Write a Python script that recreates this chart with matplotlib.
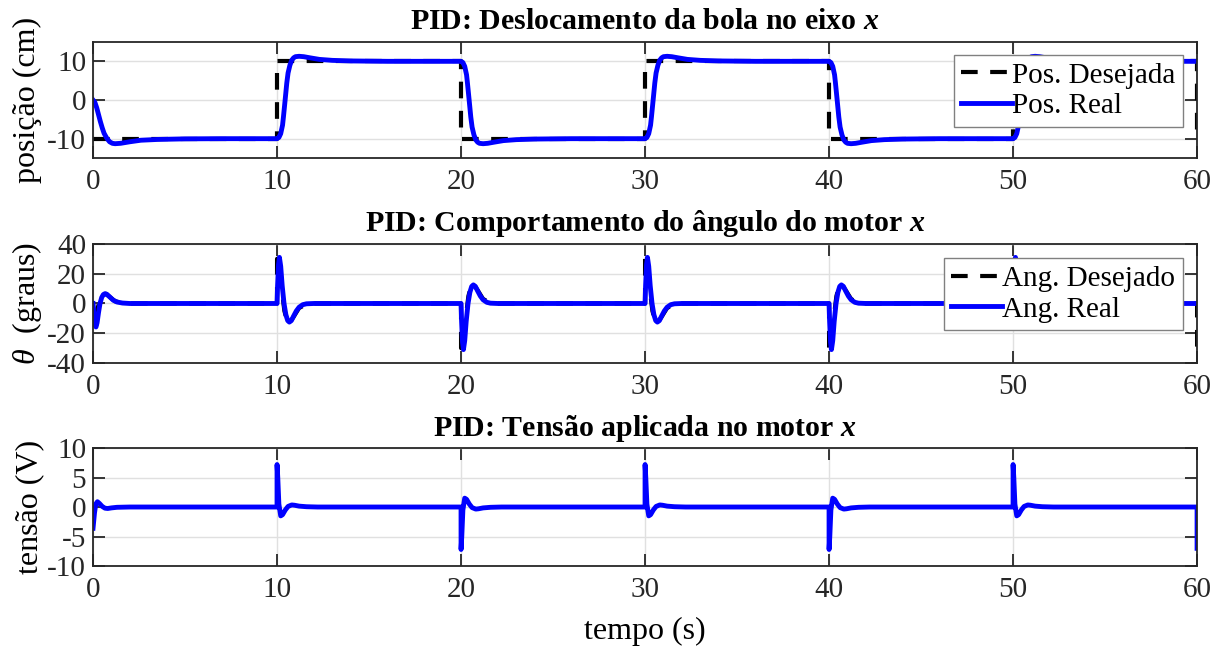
import numpy as np
import matplotlib
matplotlib.use("Agg")
import matplotlib.pyplot as plt

# ---------------- data ----------------
step_times = [0, 10, 20, 30, 40, 50]          # start of each reference segment
step_dirs = ["first", "up", "down", "up", "down", "up"]
t_end = 60

# desired position levels (cm) per segment, last value = level reached at t=60
pos_ref_times = [0, 10, 20, 30, 40, 50, 60]
pos_ref_levels = [-10, 10, -10, 10, -10, 10, -10]

# real position responses (offset s, value cm)
pos_first_off = [0, 0.1, 0.2, 0.3, 0.4, 0.5, 0.6, 0.75, 0.9, 1.05, 1.2, 1.5, 2.0, 2.6, 3.5, 5.0, 7.0, 10.0]
pos_first_val = [0, -0.6, -2.0, -3.8, -5.6, -7.2, -8.6, -9.9, -10.8, -11.2, -11.3, -11.2, -10.8, -10.4, -10.2, -10.05, -10.0, -10.0]
pos_up_off = [0, 0.1, 0.2, 0.3, 0.35, 0.44, 0.53, 0.6, 0.7, 0.8, 0.9, 1.0, 1.2, 1.45, 1.8, 2.3, 3.0, 4.0, 6.0, 10.0]
pos_up_val = [-10, -9.7, -8.7, -6.5, -4.3, 0.0, 4.4, 7.0, 9.0, 10.3, 10.9, 11.2, 11.3, 11.2, 10.9, 10.5, 10.25, 10.1, 10.0, 10.0]
pos_down_off = pos_up_off
pos_down_val = [10, 9.7, 8.7, 6.5, 4.3, 0.0, -4.4, -7.0, -9.0, -10.3, -10.9, -11.2, -11.3, -11.2, -10.9, -10.5, -10.25, -10.1, -10.0, -10.0]

# real angle responses (offset s, value deg)
ang_first_off = [0, 0.05, 0.1, 0.16, 0.22, 0.3, 0.38, 0.47, 0.56, 0.65, 0.75, 0.9, 1.1, 1.3, 1.6, 2.0, 10.0]
ang_first_val = [0, -8, -14, -15.8, -13, -6, 0, 4, 6, 6.6, 6.2, 4.5, 2.2, 1.0, 0.3, 0, 0]
ang_up_off = [0, 0.03, 0.08, 0.13, 0.2, 0.28, 0.38, 0.48, 0.58, 0.67, 0.78, 0.9, 1.05, 1.2, 1.4, 1.6, 2.0, 10.0]
ang_up_val = [0, 12, 26, 31, 25, 12, 0, -7.5, -11.5, -12.5, -11.5, -8.5, -5, -2.5, -0.8, -0.2, 0, 0]
ang_down_off = ang_up_off
ang_down_val = [0, -12, -26, -31, -25, -12, 0, 7.5, 11.5, 12.5, 11.5, 8.5, 5, 2.5, 0.8, 0.2, 0, 0]

# desired angle responses (offset s, value deg)
angd_first_off = [0, 0.001, 0.1, 0.25, 0.4, 0.55, 0.7, 0.9, 1.2, 1.6, 2.0, 10.0]
angd_first_val = [0, -15, -15, -3, 3, 6, 6.5, 4.5, 1.5, 0.3, 0, 0]
angd_up_off = [0, 0.001, 0.1, 0.25, 0.4, 0.55, 0.7, 0.9, 1.2, 1.6, 2.0, 10.0]
angd_up_val = [0, 30, 30, 10, -5, -12, -12.5, -9, -3, -0.5, 0, 0]
angd_down_off = angd_up_off
angd_down_val = [0, -30, -30, -10, 5, 12, 12.5, 9, 3, 0.5, 0, 0]
angd_final = [0, -30]   # jump at t = 60

# applied voltage responses (offset s, value V)
v_first_off = [0, 0.08, 0.15, 0.24, 0.35, 0.5, 0.65, 0.8, 1.0, 1.3, 2.0, 10.0]
v_first_val = [-3.6, -1.0, 0.5, 0.9, 0.6, 0.1, -0.2, -0.25, -0.15, -0.05, 0, 0]
v_up_off = [0, 0.001, 0.04, 0.1, 0.2, 0.3, 0.45, 0.6, 0.8, 0.95, 1.2, 1.6, 2.2, 10.0]
v_up_val = [0, 7.2, 5.0, 0.5, -1.5, -1.3, -0.5, 0.1, 0.35, 0.3, 0.15, 0.05, 0, 0]
v_down_off = v_up_off
v_down_val = [0, -7.2, -5.0, -0.5, 1.5, 1.3, 0.5, -0.1, -0.35, -0.3, -0.15, -0.05, 0, 0]
v_final = [0, -7.0]      # jump at t = 60

# ---------------- assemble ----------------
def build(first, up, down, final=None):
    shapes = {"first": first, "up": up, "down": down}
    ts, vs = [], []
    for t0, d in zip(step_times, step_dirs):
        off, val = shapes[d]
        ts.extend([t0 + o for o in off])
        vs.extend(val)
    if final is not None:
        ts.extend([t_end, t_end])
        vs.extend(final)
    return np.array(ts), np.array(vs)

pos_t, pos_v = build((pos_first_off, pos_first_val), (pos_up_off, pos_up_val), (pos_down_off, pos_down_val))
ang_t, ang_v = build((ang_first_off, ang_first_val), (ang_up_off, ang_up_val), (ang_down_off, ang_down_val))
angd_t, angd_v = build((angd_first_off, angd_first_val), (angd_up_off, angd_up_val),
                       (angd_down_off, angd_down_val), angd_final)
v_t, v_v = build((v_first_off, v_first_val), (v_up_off, v_up_val), (v_down_off, v_down_val), v_final)

# ---------------- style ----------------
plt.rcParams["font.family"] = ["Liberation Serif", "DejaVu Serif"]
plt.rcParams["mathtext.fontset"] = "custom"
plt.rcParams["mathtext.rm"] = "Liberation Serif"
plt.rcParams["mathtext.it"] = "Liberation Serif:italic"
plt.rcParams["mathtext.bf"] = "Liberation Serif:bold"
plt.rcParams["mathtext.bfit"] = "Liberation Serif:bold:italic"

axcol = "#262626"
fig = plt.figure(figsize=(12.24, 6.46), dpi=100)
ax1 = fig.add_axes([0.076, 0.7554, 0.902, 0.1796])
ax2 = fig.add_axes([0.076, 0.4381, 0.902, 0.1842])
ax3 = fig.add_axes([0.076, 0.1238, 0.902, 0.1827])

TICK_FS = 21
LABEL_FS = 23
TITLE_FS = 21.5
LEG_FS = 21

def style(ax, yticks, ylim):
    ax.set_xlim(0, 60)
    ax.set_ylim(*ylim)
    ax.set_xticks([0, 10, 20, 30, 40, 50, 60])
    ax.set_yticks(yticks)
    ax.set_yticklabels([str(y) for y in yticks])
    ax.tick_params(direction="in", length=8.5, width=1.3, colors=axcol, labelsize=TICK_FS,
                   top=True, right=True)
    ax.tick_params(axis="x", pad=8)
    ax.tick_params(axis="y", pad=5)
    for s in ax.spines.values():
        s.set_color(axcol)
        s.set_linewidth(1.3)
    ax.grid(True, color="#e0e0e0", linewidth=1.0)
    ax.set_axisbelow(True)

lw_ref = 3.0
lw_real = 3.5
dash = (4.0, 3.0)

# panel 1
ax1.step(pos_ref_times, pos_ref_levels, where="post", color="k", lw=lw_ref,
         linestyle=(0, dash), label="Pos. Desejada")
ax1.plot(pos_t, pos_v, color="#0000ff", lw=lw_real, label="Pos. Real")
style(ax1, [-10, 0, 10], (-15, 15))
ax1.set_ylabel("posição (cm)", fontsize=LABEL_FS, labelpad=4)
ax1.set_title(r"PID: Deslocamento da bola no eixo $\mathbfit{x}$", fontsize=TITLE_FS,
              fontweight="bold", pad=9.5)

# panel 2
ax2.plot(angd_t, angd_v, color="k", lw=lw_ref, linestyle=(0, dash), label="Ang. Desejado")
ax2.plot(ang_t, ang_v, color="#0000ff", lw=lw_real, label="Ang. Real")
style(ax2, [-40, -20, 0, 20, 40], (-40, 40))
ax2.set_ylabel(r"$\theta$  (graus)", fontsize=LABEL_FS, labelpad=2)
ax2.set_title(r"PID: Comportamento do ângulo do motor $\mathbfit{x}$", fontsize=TITLE_FS,
              fontweight="bold", pad=9.5)

# panel 3
ax3.plot(v_t, v_v, color="#0000ff", lw=lw_real)
style(ax3, [-10, -5, 0, 5, 10], (-10, 10))
ax3.set_ylabel("tensão (V)", fontsize=LABEL_FS, labelpad=2)
ax3.set_title(r"PID: Tensão aplicada no motor $\mathbfit{x}$", fontsize=TITLE_FS,
              fontweight="bold", pad=9)
ax3.set_xlabel("tempo (s)", fontsize=LABEL_FS, labelpad=10)

for ax, anchor in ((ax1, (0.987, 0.888)), (ax2, (0.987, 0.882))):
    leg = ax.legend(loc="upper right", bbox_to_anchor=anchor, borderaxespad=0,
                    fontsize=LEG_FS, frameon=True, fancybox=False, handlelength=1.75,
                    handletextpad=0.0, borderpad=0.25, labelspacing=0.15)
    leg.get_frame().set_edgecolor("#808080")
    leg.get_frame().set_linewidth(1.0)
    leg.get_frame().set_alpha(1.0)

fig.savefig("out.png", dpi=100, facecolor="white")
